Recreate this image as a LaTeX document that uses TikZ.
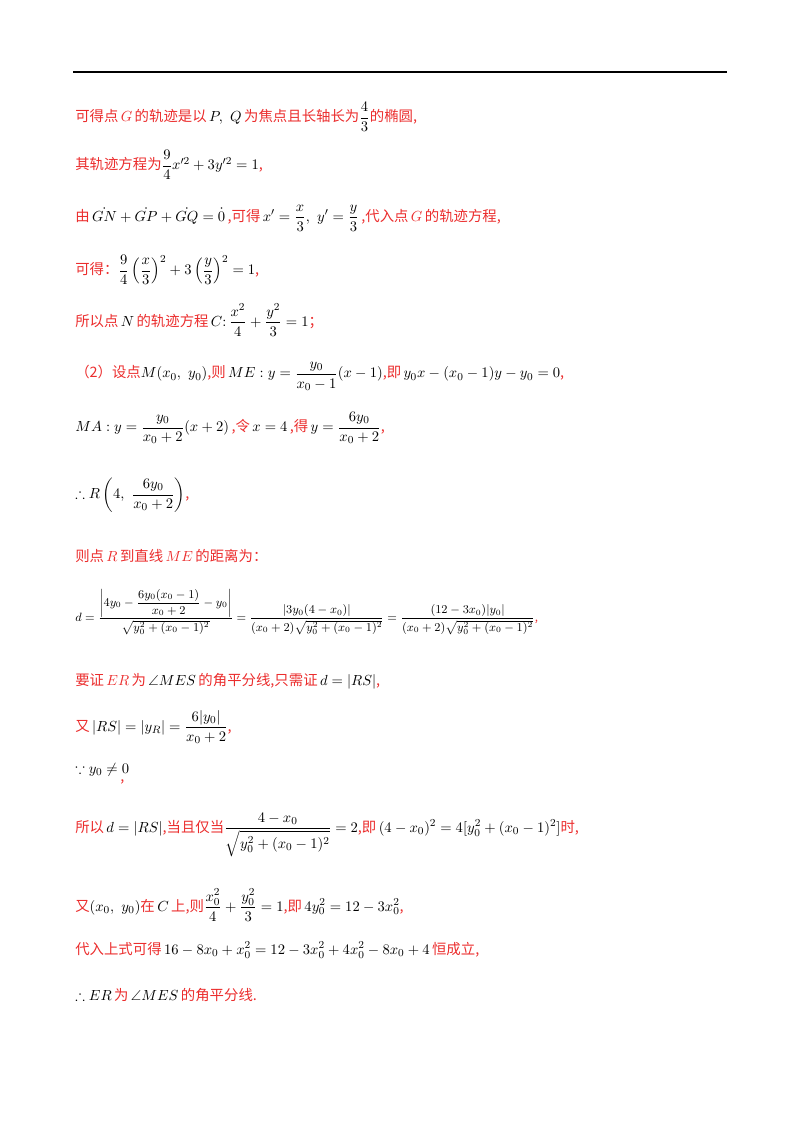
\documentclass[tikz,border=0pt]{standalone}
\usepackage{amsmath,amssymb}
\usepackage{fontspec}
\newfontfamily\cjk{Noto Sans CJK SC}
\definecolor{rd}{RGB}{235,45,45}
\newcommand{\zh}[1]{{\color{rd}\cjk #1}}
\begin{document}
\begin{tikzpicture}[x=0.75pt,y=-0.75pt,
  ln/.style={anchor=west,inner sep=0pt,font=\fontsize{10.8}{13}\selectfont}]
\useasboundingbox (0,0) rectangle (800,1132);
\draw[line width=1.5pt] (73,72) -- (727,72);
\node[ln] (l1) at (75,117) {\zh{可得点}\,{\color{rd}$G$}\,\zh{的轨迹是以}\,$P,\ Q$\,\zh{为焦点且长轴长为}$\dfrac43$\zh{的椭圆,}};
\node[ln] (l2) at (75,165) {\zh{其轨迹方程为}$\dfrac94x'^2+3y'^2=1$\zh{,}};
\node[ln] (l3) at (75,218) {\zh{由}\,$\dot{GN}+\dot{GP}+\dot{GQ}=\dot 0$\,\zh{,可得}\,$x'=\dfrac x3,\ y'=\dfrac y3$\,\zh{,代入点}\,{\color{rd}$G$}\,\zh{的轨迹方程,}};
\node[ln] (l4) at (75,270) {\zh{可得：}$\dfrac94\left(\dfrac x3\right)^2+3\left(\dfrac y3\right)^2=1$\zh{,}};
\node[ln] (l5) at (75,320) {\zh{所以点}\,$N$\,\zh{的轨迹方程}\,$C{:}\,\dfrac{x^2}4+\dfrac{y^2}3=1$\zh{；}};
\node[ln] (l6) at (75,376) {\zh{（2）设点}$M(x_0,\ y_0)$\zh{,则}\,$ME:y=\dfrac{y_0}{x_0-1}(x-1)$\zh{,即}\,$y_0x-(x_0-1)y-y_0=0$\zh{,}};
\node[ln] (l7) at (75,428) {$MA:y=\dfrac{y_0}{x_0+2}(x+2)$\,\zh{,令}\,$x=4$\,\zh{,得}\,$y=\dfrac{6y_0}{x_0+2}$\zh{,}};
\node[ln] (l8) at (75,495) {$\therefore R\left(4,\ \dfrac{6y_0}{x_0+2}\right)$\zh{,}};
\node[ln] (l9) at (75,556) {\zh{则点}\,{\color{rd}$R$}\,\zh{到直线}\,{\color{rd}$ME$}\,\zh{的距离为：}};
\node[ln,font=\fontsize{8.6}{10}\selectfont] (l10) at (75,612) {$d=\dfrac{\left|4y_0-\dfrac{6y_0(x_0-1)}{x_0+2}-y_0\right|}{\sqrt{y_0^2+(x_0-1)^2}}=\dfrac{|3y_0(4-x_0)|}{(x_0+2)\sqrt{y_0^2+(x_0-1)^2}}=\dfrac{(12-3x_0)|y_0|}{(x_0+2)\sqrt{y_0^2+(x_0-1)^2}}$\zh{,}};
\node[ln] (l11) at (75,681) {\zh{要证}\,{\color{rd}$ER$}\,\zh{为}\,$\angle MES$\,\zh{的角平分线,只需证}\,$d=|RS|$\zh{,}};
\node[ln] (l12) at (75,727) {\zh{又}\,$|RS|=|y_R|=\dfrac{6|y_0|}{x_0+2}$\zh{,}};
\node[ln] (l13) at (75,770) {$\because y_0\neq0$};
\node[ln] (l13c) at (120,782) {\zh{,}};
\node[ln] (l14) at (75,835) {\zh{所以}\,$d=|RS|$\zh{,当且仅当}$\dfrac{4-x_0}{\sqrt{y_0^2+(x_0-1)^2}}=2$\zh{,即}\,$(4-x_0)^2=4[y_0^2+(x_0-1)^2]$\zh{时,}};
\node[ln] (l15) at (75,905) {\zh{又}$(x_0,\ y_0)$\zh{在}\,$C$\,\zh{上,则}$\dfrac{x_0^2}4+\dfrac{y_0^2}3=1$\zh{,即}\,$4y_0^2=12-3x_0^2$\zh{,}};
\node[ln] (l16) at (75,950) {\zh{代入上式可得}\,$16-8x_0+x_0^2=12-3x_0^2+4x_0^2-8x_0+4$\,\zh{恒成立,}};
\node[ln] (l17) at (75,995) {$\therefore ER$\,\zh{为}\,$\angle MES$\,\zh{的角平分线.}};
\end{tikzpicture}
\end{document}
